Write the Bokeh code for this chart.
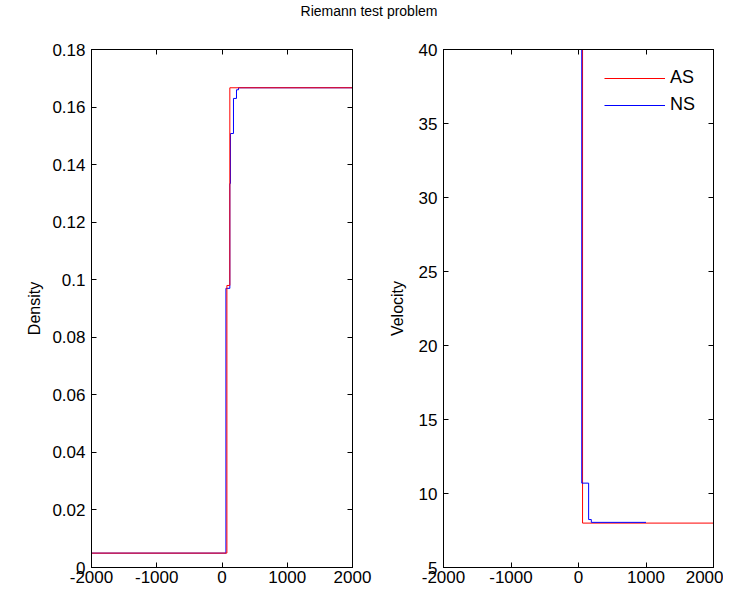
from bokeh.plotting import figure
from bokeh.models import LinearAxis, FixedTicker, Range1d, Legend, LegendItem, Div
from bokeh.layouts import column, row
from bokeh.embed import file_html
from bokeh.resources import INLINE

FONT = "Liberation Sans"

# ---- data ----
title_text = "Riemann test problem"
x_ticks = [-2000, -1000, 0, 1000, 2000]
x_tick_labels = ["-2000", "-1000", "0", "1000", "2000"]
density_ticks = [0, 0.02, 0.04, 0.06, 0.08, 0.1, 0.12, 0.14, 0.16, 0.18]
density_tick_labels = ["0", "0.02", "0.04", "0.06", "0.08", "0.1", "0.12", "0.14", "0.16", "0.18"]
velocity_ticks = [5, 10, 15, 20, 25, 30, 35, 40]
velocity_tick_labels = ["5", "10", "15", "20", "25", "30", "35", "40"]
series_names = ["AS", "NS"]

# step breakpoints (value holds until next x)
as_density_x = [-2000, 75, 120, 2000]
as_density_y = [0.005, 0.098, 0.1667, 0.1667]
ns_density_x = [-2000, 60, 120, 130, 176, 222, 253, 2000]
ns_density_y = [0.005, 0.097, 0.1334, 0.1508, 0.163, 0.166, 0.1667, 0.1667]

as_velocity_x = [-2000, 60, 2000]
as_velocity_y = [40, 8, 8]
ns_velocity_x = [-2000, 48, 150, 190, 1000]
ns_velocity_y = [40, 10.7, 8.24, 8.05, 8.05]

RED = "#ff0000"
BLUE = "#0000ff"


def stairs(x, y):
    """Expand step breakpoints (value held until next x) into a polyline."""
    xs, ys = [x[0]], [y[0]]
    for i in range(1, len(x)):
        xs += [x[i], x[i]]
        ys += [y[i - 1], y[i]]
    return xs, ys


def style(p, xt, xl, yt, yl, ylabel, label_standoff):
    p.grid.visible = False
    p.outline_line_color = "black"
    p.background_fill_color = "white"
    p.border_fill_color = "white"
    for ax in (p.xaxis[0], p.yaxis[0]):
        ax.major_tick_in = 5
        ax.major_tick_out = 0
        ax.minor_tick_line_color = None
        ax.axis_line_color = "black"
        ax.major_tick_line_color = "black"
        ax.major_label_text_font = FONT
        ax.major_label_text_font_size = "17px"
        ax.major_label_text_color = "black"
    p.xaxis[0].ticker = FixedTicker(ticks=xt)
    p.xaxis[0].major_label_overrides = dict(zip(xt, xl))
    p.xaxis[0].major_label_standoff = 3
    p.yaxis[0].ticker = FixedTicker(ticks=yt)
    p.yaxis[0].major_label_overrides = dict(zip(yt, yl))
    p.yaxis[0].major_label_standoff = 6
    p.yaxis[0].axis_label = ylabel
    p.yaxis[0].axis_label_text_font = FONT
    p.yaxis[0].axis_label_text_font_size = "16px"
    p.yaxis[0].axis_label_text_font_style = "normal"
    p.yaxis[0].axis_label_text_color = "black"
    p.yaxis[0].axis_label_standoff = label_standoff
    top = LinearAxis(ticker=FixedTicker(ticks=xt), major_label_overrides={t: "" for t in xt},
                     major_label_text_font_size="1px",
                     major_label_standoff=0, major_tick_in=5, major_tick_out=0,
                     minor_tick_line_color=None, axis_line_color="black")
    right = LinearAxis(ticker=FixedTicker(ticks=yt), major_label_overrides={t: "" for t in yt},
                       major_label_text_font_size="1px",
                       major_label_standoff=0, major_tick_in=5, major_tick_out=0,
                       minor_tick_line_color=None, axis_line_color="black")
    p.add_layout(top, "above")
    p.add_layout(right, "right")


p1 = figure(frame_width=261, frame_height=518, x_range=Range1d(-2000, 2000),
            y_range=Range1d(0, 0.18), output_backend="svg", toolbar_location=None,
            min_border_left=91, min_border_right=20, min_border_top=15, min_border_bottom=18)
xs, ys = stairs(ns_density_x, ns_density_y)
p1.line(xs, ys, line_color=BLUE, line_width=1)
xs, ys = stairs(as_density_x, as_density_y)
p1.line(xs, ys, line_color=RED, line_width=1)
style(p1, x_ticks, x_tick_labels, density_ticks, density_tick_labels, "Density", 6)

p2 = figure(frame_width=270, frame_height=518, x_range=Range1d(-2000, 2000),
            y_range=Range1d(5, 40), output_backend="svg", toolbar_location=None,
            min_border_left=71, min_border_right=10, min_border_top=15, min_border_bottom=18)
xs, ys = stairs(as_velocity_x, as_velocity_y)
r_as = p2.line(xs, ys, line_color=RED, line_width=1)
xs, ys = stairs(ns_velocity_x, ns_velocity_y)
r_ns = p2.line(xs, ys, line_color=BLUE, line_width=1)
style(p2, x_ticks, x_tick_labels, velocity_ticks, velocity_tick_labels, "Velocity", 10)

legend = Legend(items=[LegendItem(label=series_names[0], renderers=[r_as]),
                       LegendItem(label=series_names[1], renderers=[r_ns])],
                location="top_right", border_line_color=None, background_fill_alpha=0,
                glyph_width=61, glyph_height=2, label_height=20, label_standoff=5,
                spacing=6, padding=0, margin=18, label_text_font=FONT,
                label_text_font_size="18px", label_text_color="black")
p2.add_layout(legend)

title = Div(text=title_text, width=738, height=34,
            styles={"text-align": "center", "font-size": "14px", "font-family": FONT,
                    "line-height": "22px", "color": "black", "margin": "0", "padding": "0"})

layout = column(title, row(p1, p2, spacing=0), spacing=0)

open("out.html", "w").write(file_html(layout, INLINE))
